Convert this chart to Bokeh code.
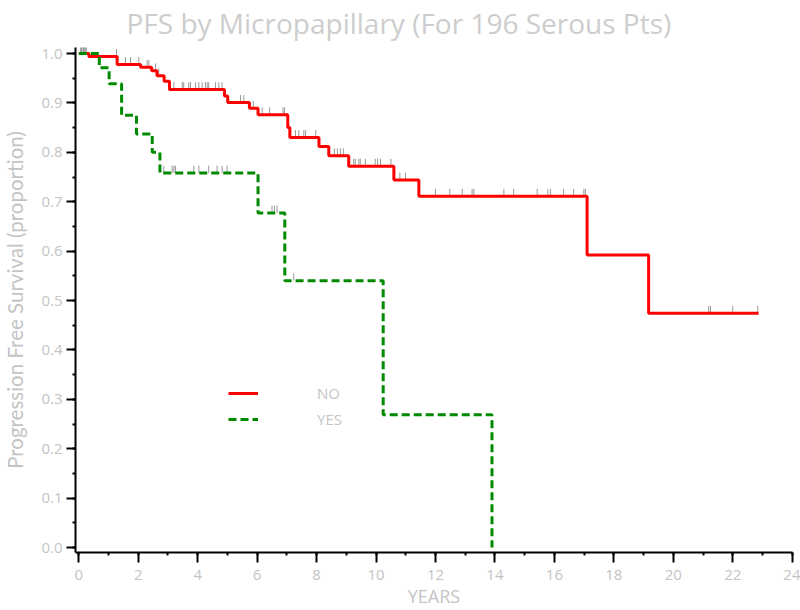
import numpy as np
from bokeh.plotting import figure
from bokeh.models import (Range1d, SingleIntervalTicker, NumeralTickFormatter,
                          Legend, LegendItem, Title)
from bokeh.embed import file_html
from bokeh.resources import INLINE

# ---- data ----
title_text = "PFS by Micropapillary (For 196 Serous Pts)"
x_label = "YEARS"
y_label = "Progression Free Survival (proportion)"
group_names = ["NO", "YES"]

# Kaplan-Meier step points: group NO
times_no = [0, 0.34, 1.29, 2.08, 2.45, 2.63, 2.87, 3.05, 4.90, 5.01, 5.74, 6.03,
            7.03, 7.10, 8.08, 8.41, 9.08, 10.60, 11.44, 17.10, 19.17]
surv_no = [1.0, 0.994, 0.978, 0.972, 0.965, 0.955, 0.944, 0.927, 0.914, 0.901, 0.889,
           0.876, 0.85, 0.83, 0.812, 0.793, 0.772, 0.744, 0.711, 0.592, 0.474]
last_followup_no = 22.87
censor_no = [0.06, 0.10, 0.15, 0.20, 0.25, 1.27, 1.57, 1.74, 2.02, 2.30, 2.36, 2.58,
             2.69, 3.20, 3.48, 3.53, 3.70, 3.76, 3.93, 4.04, 4.15, 4.26, 4.32, 4.37,
             4.60, 4.71, 4.82, 5.44, 5.55, 5.87, 6.17, 6.42, 6.87, 6.92, 7.29, 7.40,
             7.57, 7.63, 7.97, 8.60, 8.70, 8.80, 8.90, 9.25, 9.30, 9.42, 9.47, 9.64,
             9.97, 10.05, 10.15, 10.50, 10.80, 10.99, 12.00, 12.48, 12.90, 13.23,
             13.29, 14.30, 14.63, 15.42, 15.78, 15.87, 16.31, 16.65, 16.99, 17.04,
             21.19, 21.25, 22.00, 22.84]

# group YES
times_yes = [0, 0.69, 1.02, 1.44, 1.94, 2.47, 2.73, 6.03, 6.93, 10.24, 13.90]
surv_yes = [1.0, 0.971, 0.939, 0.875, 0.837, 0.80, 0.758, 0.677, 0.540, 0.269, 0.0]
censor_yes = [0.10, 0.16, 0.22, 2.86, 3.14, 3.20, 3.25, 3.87, 4.04, 4.37, 4.65, 4.82,
              4.99, 6.50, 6.58, 6.67, 7.23]

x_major_interval = 2
y_major_interval = 0.1

# ---- styling ----
LABEL_GRAY = "#c4c4c4"
FONT = "Open Sans"
CENSOR_H = 0.015

p = figure(width=800, height=610, output_backend="svg", toolbar_location=None,
           x_range=Range1d(-0.111, 24.01), y_range=Range1d(-0.0101, 1.0122),
           min_border_left=75, min_border_right=8, min_border_top=47,
           min_border_bottom=58, background_fill_color="white",
           border_fill_color="white")
p.outline_line_color = None
p.grid.visible = False

p.title = Title(text=title_text, align="left", offset=51, vertical_align="top",
                standoff=7, text_font_size="28px", text_font_style="normal",
                text_color="#cdcdcd", text_font=FONT)


def step_level(times, surv, t):
    idx = np.searchsorted(np.array(times), np.array(t), side="right") - 1
    return np.array(surv)[idx]


# censor marks
for times, surv, cens in [(times_no, surv_no, censor_no),
                          (times_yes, surv_yes, censor_yes)]:
    lv = step_level(times, surv, cens)
    p.segment(x0=cens, y0=lv, x1=cens, y1=lv + CENSOR_H,
              line_color="#999999", line_width=1)

r_no = p.step(x=times_no + [last_followup_no], y=surv_no + [surv_no[-1]],
              mode="after", line_color="#ff0000", line_width=3)
r_yes = p.step(x=times_yes, y=surv_yes, mode="after", line_color="#008a00",
               line_width=3, line_dash="8 4")

legend = Legend(items=[LegendItem(label=group_names[0], renderers=[r_no]),
                       LegendItem(label=group_names[1], renderers=[r_yes])],
                location=(153, 123), orientation="vertical",
                glyph_width=30, glyph_height=20, label_height=20,
                label_standoff=59, spacing=6, padding=0, margin=0,
                border_line_color=None, background_fill_alpha=0,
                label_text_color=LABEL_GRAY, label_text_font_size="15px",
                label_text_font=FONT)
p.add_layout(legend)

for ax in (p.xaxis[0], p.yaxis[0]):
    ax.axis_line_width = 2
    ax.axis_line_color = "black"
    ax.major_tick_line_width = 2
    ax.minor_tick_line_width = 2
    ax.major_tick_line_color = "black"
    ax.minor_tick_line_color = "black"
    ax.major_tick_in = 0
    ax.minor_tick_in = 0
    ax.minor_tick_out = 3
    ax.major_label_text_color = LABEL_GRAY
    ax.major_label_text_font_size = "15px"
    ax.major_label_text_font = FONT
    ax.axis_label_text_color = LABEL_GRAY
    ax.axis_label_text_font_style = "normal"

p.xaxis.ticker = SingleIntervalTicker(interval=x_major_interval, num_minor_ticks=2)
p.xaxis.major_tick_out = 10
p.xaxis.major_label_standoff = 7
p.xaxis.axis_label = x_label
p.xaxis.axis_label_text_font = FONT
p.xaxis.axis_label_text_font_size = "18px"
p.xaxis.axis_label_standoff = 1

p.yaxis.ticker = SingleIntervalTicker(interval=y_major_interval, num_minor_ticks=2)
p.yaxis.formatter = NumeralTickFormatter(format="0.0")
p.yaxis.major_tick_out = 9
p.yaxis.major_label_standoff = 4
p.yaxis.axis_label = y_label
p.yaxis.axis_label_text_font = "Lato"
p.yaxis.axis_label_text_font_size = "20.5px"
p.yaxis.axis_label_standoff = 11

open("out.html", "w").write(file_html(p, INLINE))
